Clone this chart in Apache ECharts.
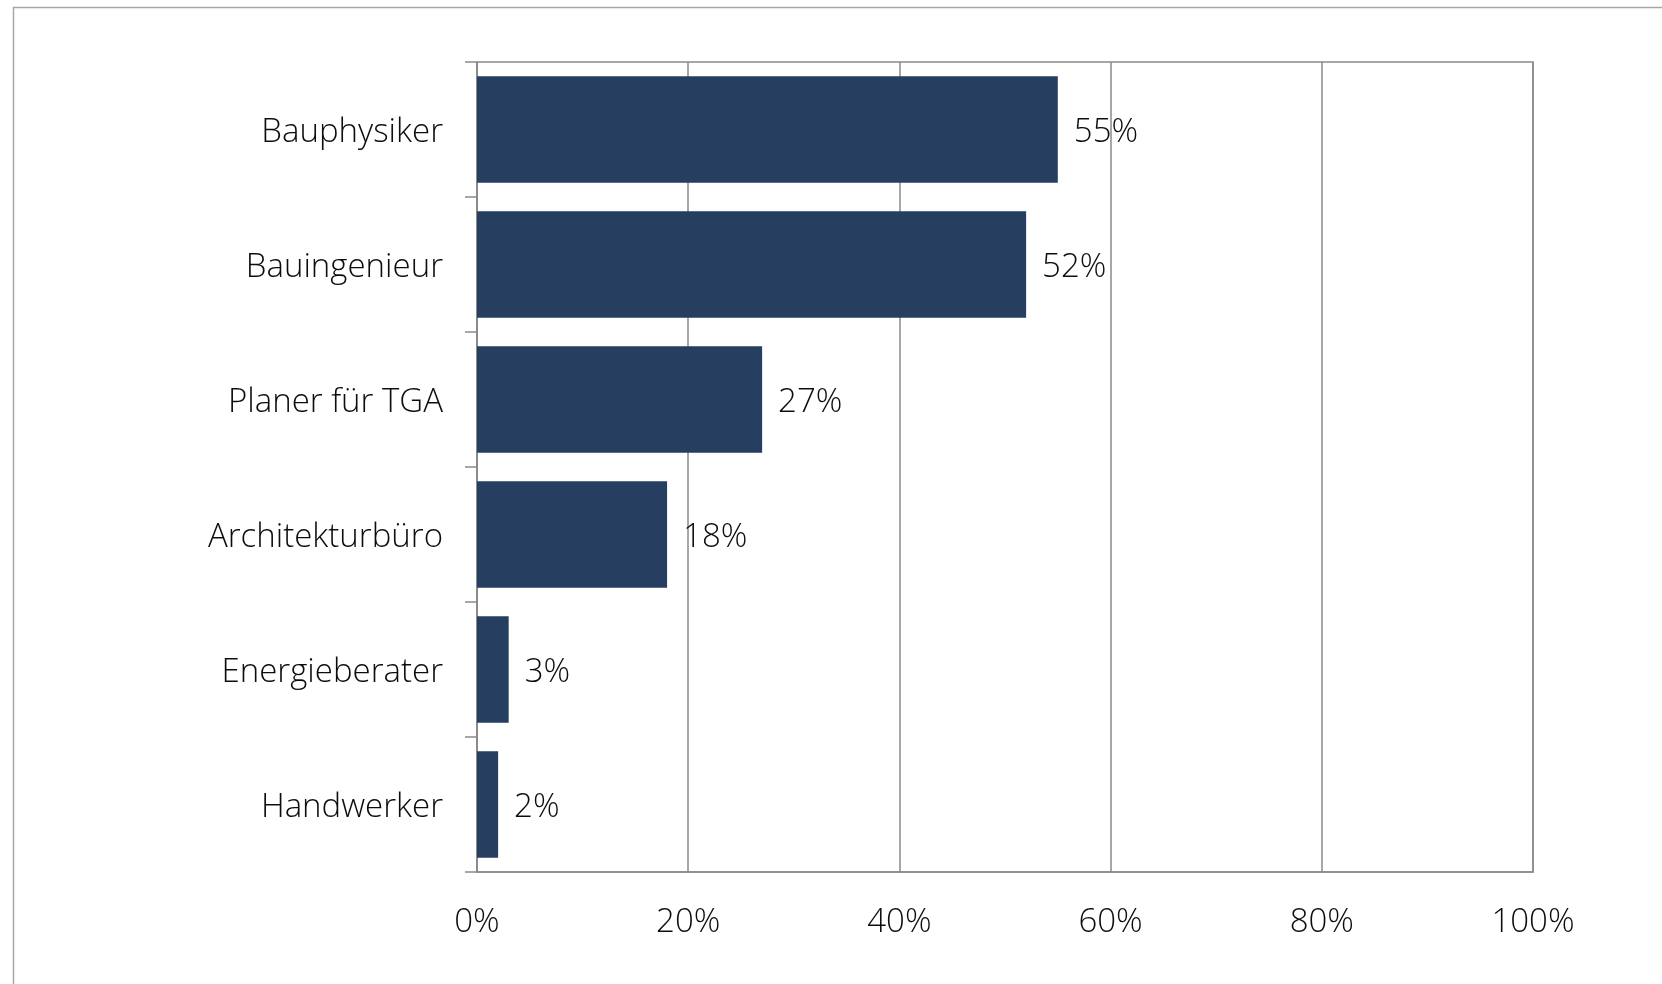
<!DOCTYPE html>
<html>
<head>
<meta charset="utf-8">
<style>
  html, body { margin: 0; padding: 0; background: #ffffff; }
  #chart { width: 1662px; height: 984px; }
</style>
<script src="https://cdn.jsdelivr.net/npm/echarts@6/dist/echarts.min.js"></script>
</head>
<body>
<div id="chart"></div>
<script>
// Who is consulted: share of answers per profession
const categories = ['Bauphysiker', 'Bauingenieur', 'Planer für TGA', 'Architekturbüro', 'Energieberater', 'Handwerker'];
const shares = [55, 52, 27, 18, 3, 2];
const axisTicks = [0, 20, 40, 60, 80, 100];

const FONT = '"Open Sans", "Noto Sans", sans-serif';
const GRID_COLOR = '#8a8a8a';
const BAR_COLOR = '#263f60';
const TEXT_COLOR = '#0d0d0d';

const chart = echarts.init(document.getElementById('chart'), null, { renderer: 'canvas' });

chart.setOption({
  backgroundColor: '#ffffff',
  animation: false,
  graphic: [{
    type: 'rect',
    left: 11, top: 5,
    shape: { width: 1700, height: 1000 },
    style: { fill: 'none', stroke: '#a6a6a6', lineWidth: 1.5 },
    silent: true
  }],
  grid: {
    left: 477, right: 129, top: 62, bottom: 112,
    show: true, borderColor: GRID_COLOR, borderWidth: 1.5, backgroundColor: 'transparent'
  },
  xAxis: {
    type: 'value',
    min: axisTicks[0],
    max: axisTicks[axisTicks.length - 1],
    interval: axisTicks[1] - axisTicks[0],
    axisLine: { show: true, lineStyle: { color: GRID_COLOR, width: 1.5 } },
    axisTick: { show: false },
    splitLine: { show: true, lineStyle: { color: GRID_COLOR, width: 1.5 } },
    axisLabel: {
      formatter: '{value}%',
      fontFamily: FONT, fontWeight: 300, fontSize: 33, color: TEXT_COLOR, margin: 34
    }
  },
  yAxis: {
    type: 'category',
    data: categories,
    inverse: true,
    axisLine: { show: true, lineStyle: { color: GRID_COLOR, width: 1.5 } },
    axisTick: { show: true, length: 12, lineStyle: { color: GRID_COLOR, width: 1.5 } },
    splitLine: { show: false },
    axisLabel: {
      margin: 34,
      formatter: v => '{c|' + v + '}',
      rich: {
        c: {
          fontFamily: FONT, fontWeight: 300, fontSize: 33, color: TEXT_COLOR,
          padding: [6, 0, 0, 0]
        }
      }
    }
  },
  series: [{
    type: 'bar',
    data: shares,
    barCategoryGap: '21%',
    itemStyle: { color: BAR_COLOR },
    label: {
      show: true,
      position: 'right',
      distance: 16,
      offset: [0, 3],
      formatter: p => p.value + '%',
      fontFamily: FONT, fontWeight: 300, fontSize: 33, color: TEXT_COLOR
    }
  }]
});
</script>
</body>
</html>
